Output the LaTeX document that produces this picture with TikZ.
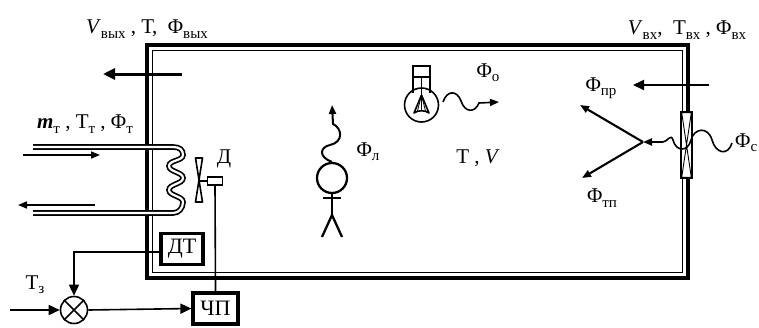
\documentclass[tikz,border=0pt]{standalone}
\usepackage{fontspec}
\setmainfont{Liberation Serif}
\usetikzlibrary{arrows.meta,calc}
% lowered index text
\newcommand\lw[1]{\raisebox{-0.45ex}{\fontsize{15}{15}\selectfont #1}}
\begin{document}
\begin{tikzpicture}[x=1pt,y=-1pt,
  lbl/.style={font=\fontsize{21}{21}\selectfont, inner sep=0pt},
  thinline/.style={line width=1.6pt},
  medline/.style={line width=2.1pt},
  heavyline/.style={line width=3pt},
  tip/.style={-{Triangle[length=11pt,width=10pt]}},
  smalltip/.style={-{Triangle[length=9pt,width=7pt]}},
  ctrlbox/.style={draw, line width=3.2pt, inner sep=0pt, font=\fontsize{22}{22}\selectfont},
  tube/.style={double, double distance=2.2pt, line width=1.7pt},
  outerwall/.style={line width=3.2pt},
  innerwall/.style={line width=1.9pt},
]
\useasboundingbox (0,0) rectangle (759,327);

% room walls
\draw[outerwall] (147,45) rectangle (688,278);
\draw[innerwall] (152.5,50.5) rectangle (682.5,272.5);

% window in the right wall
\node[draw, fill=white, thinline, minimum width=11pt, minimum height=66pt, inner sep=0pt] (win) at (686.5,145) {};
\draw[line width=0.9pt] ($(win.north west)+(1.5,1.5)$) -- ($(win.south east)+(-1.5,-1.5)$) -- ($(win.south west)+(1.5,-1.5)$) -- ($(win.north east)+(-1.5,1.5)$) -- cycle;

% outgoing air
\coordinate (outA) at (182,74);
\coordinate (outB) at (103,74);
\draw[heavyline, -{Triangle[length=12pt,width=11pt]}] (outA) -- (outB);
\node[lbl] (vout) at (147,29) {\textit{V}\lw{вых} , Т, \ Φ\lw{вых}};

% incoming air
\coordinate (inA) at (709,85);
\coordinate (inB) at (633,85);
\draw[medline, tip] (inA) -- (inB);
\node[lbl] (vin) at (687,30) {\textit{V}\lw{вх},\ \ Т\lw{вх} , Φ\lw{вх}};
\node[lbl] (fpr) at (601,88) {Φ\lw{пр}};

% solar flux through the window
\coordinate (sun) at (732,143);
\coordinate (sunend) at (663,142);
\coordinate (split) at (643,142);
\draw[thinline] (sun) .. controls (728,156) and (716,154) .. (712,140)
  .. controls (708,126) and (694,128) .. (691,140)
  .. controls (688,152) and (676,152) .. (673,140)
  .. controls (671,133) and (667,142) .. (sunend);
\draw[medline, smalltip] (sunend) -- (split);
\coordinate (upA) at (580,105);
\coordinate (dnA) at (582,178);
\draw[medline, smalltip] (split) -- (upA);
\draw[medline, smalltip] (split) -- (dnA);
\node[lbl, anchor=west] (fs) at (735,143) {Φ\lw{с}};
\node[lbl] (ftp) at (602,198) {Φ\lw{тп}};

% room state
\node[lbl] (tv) at (478,158) {Т , \textit{V}};

% lamp
\draw[thinline] (413,66) rectangle (430,77);
\draw[thinline] (413,77) -- (413,93) (430,77) -- (430,93);
\node[draw, circle, thinline, minimum size=34pt, inner sep=0pt] (bulb) at (421.5,105) {};
\draw[thinline] (421.5,77) -- (421.5,95);
\draw[thinline, line join=round] (421.5,95) -- (414,113) .. controls (418,110) and (425,110) .. (429,113) -- cycle;
\draw[line width=0.8pt] (421.5,95) -- (417.5,111) (421.5,95) -- (421.5,110) (421.5,95) -- (425.5,111);
\coordinate (lampA) at (443,102);
\coordinate (lampB) at (499,102);
\draw[thinline, smalltip] (lampA) .. controls (447,90) and (457,90) .. (461,101)
  .. controls (465,113) and (475,113) .. (479,103) -- (lampB);
\node[lbl] (fo) at (488,73) {Φ\lw{о}};

% person
\node[draw, circle, line width=2.3pt, minimum size=30pt, inner sep=0pt] (head) at (332,178) {};
\draw[line width=2.3pt] (head.south) -- (332,215) (323,198) -- (341,198);
\draw[line width=2.3pt] (322,237) -- (332,215) -- (342,237);
\coordinate (heat) at (332,105);
\draw[line width=2pt, smalltip] (head.north) .. controls (318,157) and (320,147) .. (330,145)
  .. controls (344,142) and (342,128) .. (333,124) -- (heat);
\node[lbl] (fl) at (368,152) {Φ\lw{л}};

% heater coil with supply and return
\draw[tube] (33,147) -- (173,147)
  .. controls (180,147) and (183,150) .. (183,155)
  .. controls (183,161) and (169,160) .. (169,166)
  .. controls (169,172) and (183,172) .. (183,178)
  .. controls (183,184) and (169,184) .. (169,190)
  .. controls (169,196) and (183,196) .. (183,202)
  .. controls (183,208) and (179,213) .. (173,213) -- (33,213);
\coordinate (supA) at (23,155);
\coordinate (supB) at (100,155);
\coordinate (retA) at (95,205);
\coordinate (retB) at (18,205);
\draw[thinline, smalltip] (supA) -- (supB);
\draw[thinline, smalltip] (retA) -- (retB);
\node[lbl] (mt) at (85,124) {\textit{\textbf{m}}\lw{т} , Т\lw{т} , Φ\lw{т}};

% fan and its drive
\draw[thinline, line join=round] (199,180) -- (195.5,158) -- (202.5,158) -- cycle;
\draw[thinline, line join=round] (199,180) -- (195.5,202) -- (202.5,202) -- cycle;
\coordinate (fan) at (199,181);
\node[draw, thinline, minimum width=15pt, minimum height=8pt, inner sep=0pt] (mot) at (215,181) {};
\draw[thinline] (fan) -- (mot.west);
\node[lbl] (dlab) at (224,159) {Д};

% control loop
\node[ctrlbox, minimum width=42pt, minimum height=31pt] (dt) at (182,249) {ДТ};
\node[ctrlbox, minimum width=45pt, minimum height=31pt] (chp) at (215.5,308.5) {ЧП};
\node[draw, circle, thinline, minimum size=27pt, inner sep=0pt] (cmp) at (74,310) {};
\draw[thinline] (cmp.north west) -- (cmp.south east) (cmp.north east) -- (cmp.south west);
\coordinate (setp) at (10,310);
\draw[thinline, tip] (setp) -- (cmp.west);
\draw[thinline, tip] (cmp.east) -- (chp.west);
\draw[thinline, tip] ($(dt.west)+(0,3)$) -| (cmp.north);
\draw[thinline] (mot.south) -- (chp.north);
\node[lbl] (tz) at (35,285) {Т\lw{з}};
\end{tikzpicture}
\end{document}
